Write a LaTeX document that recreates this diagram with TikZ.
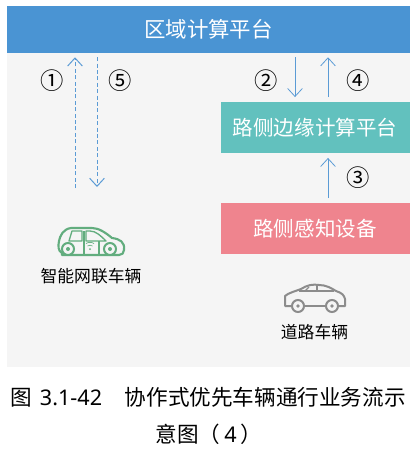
\documentclass[tikz,border=0pt]{standalone}
\usepackage{fontspec}
\setmainfont{Noto Sans CJK SC}
\newfontfamily\latinfont{Noto Sans}
\usetikzlibrary{arrows.meta}

\definecolor{areablue}{HTML}{4A94D3}
\definecolor{edgeteal}{HTML}{62C1BE}
\definecolor{sensepink}{HTML}{EF848E}
\definecolor{panelgray}{HTML}{F5F5F5}
\definecolor{arrowblue}{HTML}{5B9BD5}
\definecolor{cargreen}{HTML}{62AD7E}
\definecolor{cargray}{HTML}{8C8C8C}

\tikzset{
  barbox/.style={rectangle, inner sep=0pt, text=white, font=\fontsize{15.4}{18}\selectfont},
  flow/.style={arrowblue, line width=0.6pt, -{Straight Barb[length=6pt,width=11pt]}},
  dashflow/.style={flow, line width=0.75pt, dash pattern=on 3pt off 1.8pt},
  numlabel/.style={inner sep=0pt, font=\fontsize{17.5}{18}\selectfont},
  carlabel/.style={inner sep=0pt, font=\fontsize{12.6}{15}\selectfont},
  caption/.style={inner sep=0pt, font=\fontsize{16.2}{20}\selectfont},
}

\begin{document}
\begin{tikzpicture}[x=0.75pt, y=-0.75pt]
\useasboundingbox (0,0) rectangle (410,449);
\fill[white] (0,0) rectangle (410,449);
\fill[panelgray] (7,6) rectangle (410,367);

% Boxes
\node[barbox, fill=areablue, minimum width=302.25pt, minimum height=35.25pt, font=\fontsize{16.1}{18}\selectfont] (area) at (208.5,29.5) {区域计算平台};
\node[barbox, fill=edgeteal, minimum width=141.75pt, minimum height=38.25pt] (edge) at (315,127.5) {路侧边缘计算平台};
\node[barbox, fill=sensepink, minimum width=141.75pt, minimum height=38.25pt] (sense) at (315,228.5) {路侧感知设备};

% Arrows
\coordinate (upstart) at (75,188);
\coordinate (downend) at (97,187);
\coordinate (leftcol) at (295,0);
\coordinate (rightcol) at (328,0);
\draw[dashflow, shorten >=3pt] (upstart) -- (area.south -| upstart);
\draw[dashflow, shorten <=3pt] (area.south -| downend) -- (downend);
\draw[flow, shorten <=3pt, shorten >=3.5pt] (area.south -| leftcol) -- (edge.north -| leftcol);
\draw[flow, shorten <=3.5pt, shorten >=3pt] (edge.north -| rightcol) -- (area.south -| rightcol);
\draw[flow, shorten <=3.5pt, shorten >=3.5pt] (sense.north -| rightcol) -- (edge.south -| rightcol);

% Labels
\node[numlabel] (one) at (52.5,81) {①};
\node[numlabel] (five) at (120,81) {⑤};
\node[numlabel] (two) at (266,81) {②};
\node[numlabel] (four) at (358,81) {④};
\node[numlabel] (three) at (358,178) {③};
\node[carlabel] (smartcar) at (91,276) {智能网联车辆};
\node[carlabel] (roadcar) at (314.5,332) {道路车辆};
\node[caption] (capone) at (208,397) {图\hspace{6pt}{\latinfont 3.1-42}\hspace{17pt}协作式优先车辆通行业务流示};
\node[caption] (captwo) at (209,434) {意图（\hspace{3pt}{\latinfont 4}\hspace{3pt}）};

% Green car
\draw[cargreen, line width=1.6pt, line join=round]
  (62,253) .. controls (58,251) and (58,246) .. (59,241)
  .. controls (60,236) and (63,229) .. (71,228) -- (92,228)
  .. controls (99,228) and (106,233) .. (112,238)
  .. controls (120,239) and (125,242) .. (124,250)
  .. controls (124,253) and (122,255) .. (119,255) -- (62,255) -- cycle;
\draw[cargreen, line width=1pt, line join=round] (72,231) -- (69,241) -- (82,241) -- (82,231) -- cycle;
\draw[cargreen, line width=1pt, line join=round] (86,231) -- (86,241) -- (106,241) .. controls (101,236) and (96,231) .. (90,231) -- cycle;
\draw[cargreen, line width=1pt] (84,231) -- (84,254);
\draw[cargreen, line width=1pt] (99,241) -- (99,254);
\draw[cargreen, line width=1.5pt, fill=panelgray] (68,249) circle (6);
\draw[cargreen, line width=1.5pt, fill=panelgray] (110,249) circle (6);
\fill[cargreen] (68,249) circle (2);
\fill[cargreen] (110,249) circle (2);
\draw[cargreen, line width=0.5pt] (86,243.5) .. controls (88,242) and (92,242) .. (94,243.5);
\draw[cargreen, line width=0.5pt] (87.5,246) .. controls (89,245) and (91,245) .. (92.5,246);
\fill[cargreen] (90,249) circle (1);

% Gray car
\draw[cargray, line width=1.5pt, line join=round]
  (291,306) -- (285,306) -- (285,296)
  .. controls (288,293) and (296,291) .. (301,289)
  .. controls (307,285) and (313,284) .. (319,285)
  .. controls (326,285) and (331,288) .. (336,291)
  .. controls (342,293) and (344,295) .. (345,299) -- (345,306) -- (339,306);
\draw[cargray, line width=1.5pt] (305,306) -- (325,306);
\draw[cargray, line width=1pt] (299,291) -- (334,291);
\draw[cargray, line width=1pt] (305,291) -- (309,287);
\draw[cargray, line width=1pt] (317,285) -- (317,291);
\draw[cargray, line width=1.5pt] (298,306) circle (6);
\draw[cargray, line width=1.5pt] (332,306) circle (6);
\fill[cargray] (298,306) circle (1.8);
\fill[cargray] (332,306) circle (1.8);
\end{tikzpicture}
\end{document}
